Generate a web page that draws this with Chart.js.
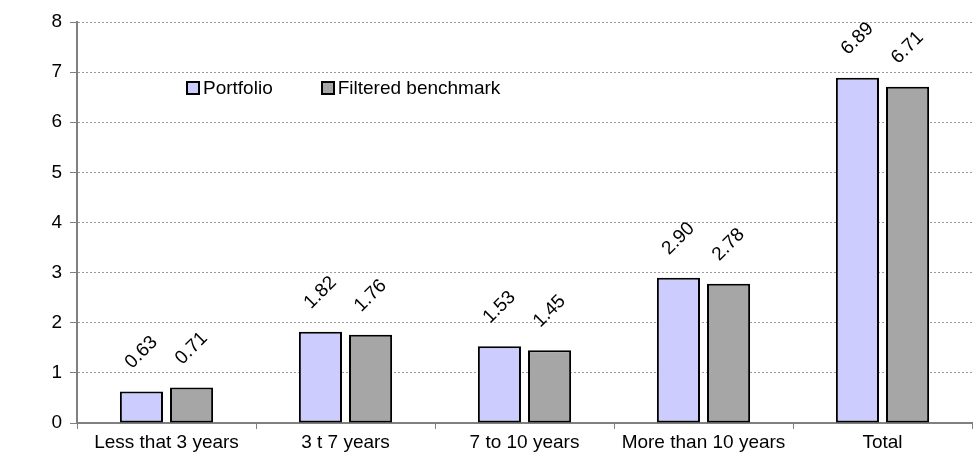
<!DOCTYPE html>
<html>
<head>
<meta charset="utf-8">
<script src="https://cdn.jsdelivr.net/npm/chart.js@4/dist/chart.umd.min.js"></script>
<style>
  body { margin: 0; background: #fff; }
  #wrap { position: relative; width: 980px; height: 463px; }
  .legend { position: absolute; top: 77px; left: 186px; font: 19px 'Liberation Sans Narrow', 'Arial Narrow', sans-serif; color: #000; }
  .legend span.item { margin-right: 48px; }
  .legend i { display: inline-block; width: 10px; height: 10px; border: 2px solid #000; margin-right: 3px; vertical-align: -1px; }
</style>
</head>
<body>
<div id="wrap">
  <canvas id="myChart" width="980" height="463"></canvas>
  <div class="legend">
    <span class="item"><i style="background:#ccccff"></i>Portfolio</span><span><i style="background:#a6a6a6"></i>Filtered benchmark</span>
  </div>
</div>
<script>
var categories = ["Less that 3 years", "3 t 7 years", "7 to 10 years", "More than 10 years", "Total"];
var portfolio = [0.63, 1.82, 1.53, 2.90, 6.89];
var benchmark = [0.71, 1.76, 1.45, 2.78, 6.71];
var yTicks = [0, 1, 2, 3, 4, 5, 6, 7, 8];

var fontFamily = "'Liberation Sans Narrow', 'Arial Narrow', sans-serif";

// rotated value labels above each bar
var barLabels = {
  id: "barLabels",
  afterDatasetsDraw: function (chart) {
    var ctx = chart.ctx;
    ctx.save();
    ctx.font = "19px " + fontFamily;
    ctx.fillStyle = "#000";
    ctx.textAlign = "center";
    ctx.textBaseline = "middle";
    chart.data.datasets.forEach(function (ds, i) {
      chart.getDatasetMeta(i).data.forEach(function (bar, j) {
        ctx.save();
        ctx.translate(bar.x, bar.y - 39);
        ctx.rotate(-Math.PI / 4);
        ctx.fillText(ds.data[j].toFixed(2), 0, 0);
        ctx.restore();
      });
    });
    ctx.restore();
  }
};

var myChart = document.getElementById("myChart").getContext("2d");
var chart = new Chart(myChart, {
  type: "bar",
  data: {
    labels: categories,
    datasets: [
      {
        label: "Portfolio",
        data: portfolio,
        backgroundColor: "#ccccff",
        borderColor: "#000",
        borderWidth: 2,
        borderSkipped: false,
      },
      {
        label: "Filtered benchmark",
        data: benchmark,
        backgroundColor: "#a6a6a6",
        borderColor: "#000",
        borderWidth: 2,
        borderSkipped: false,
      },
    ],
  },
  options: {
    responsive: false,
    animation: false,
    layout: { padding: { top: 22, right: 8, left: 0, bottom: 0 } },
    datasets: { bar: { categoryPercentage: 0.56, barPercentage: 0.86 } },
    plugins: { legend: { display: false }, tooltip: { enabled: false } },
    scales: {
      x: {
        grid: { offset: true, drawOnChartArea: false, tickLength: 6, color: "#808080", lineWidth: 1 },
        border: { color: "#808080", width: 2 },
        ticks: { color: "#000", font: { family: fontFamily, size: 19 }, padding: 2 },
        afterFit: function (s) { s.height = 40; },
      },
      y: {
        min: 0,
        max: 8,
        afterBuildTicks: function (s) { s.ticks = yTicks.map(function (v) { return { value: v }; }); },
        grid: { color: "#9a9a9a", tickLength: 7, tickColor: "#808080", tickBorderDash: [], lineWidth: 1 },
        border: { color: "#808080", width: 2, dash: [2, 2] },
        ticks: { color: "#000", font: { family: fontFamily, size: 19 }, padding: 8 },
        afterFit: function (s) { s.width = 77; },
      },
    },
  },
  plugins: [barLabels],
});
</script>
</body>
</html>
